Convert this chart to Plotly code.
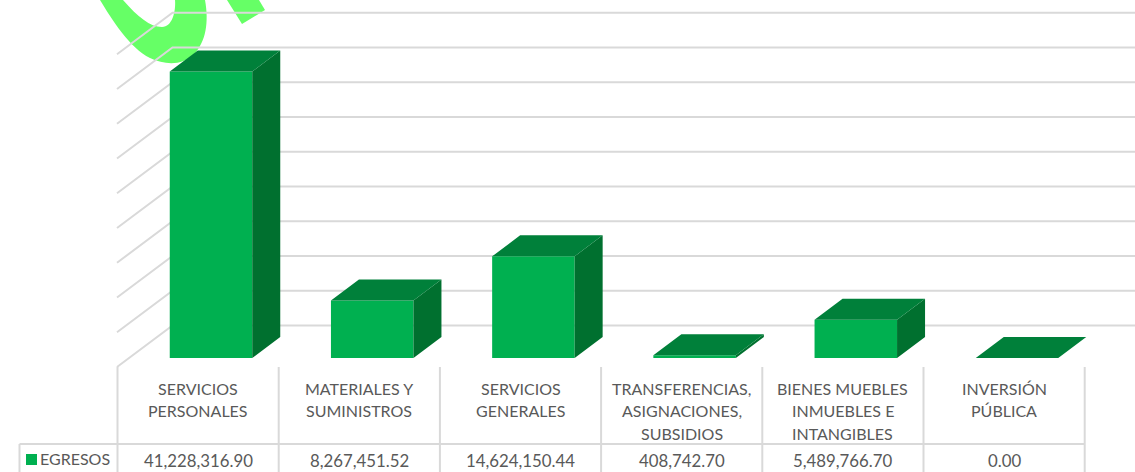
import plotly.graph_objects as go

categories = [
    ["SERVICIOS", "PERSONALES"],
    ["MATERIALES Y", "SUMINISTROS"],
    ["SERVICIOS", "GENERALES"],
    ["TRANSFERENCIAS,", "ASIGNACIONES,", "SUBSIDIOS"],
    ["BIENES MUEBLES", "INMUEBLES E", "INTANGIBLES"],
    ["INVERSIÓN", "PÚBLICA"],
]
egresos = [41228316.90, 8267451.52, 14624150.44, 408742.70, 5489766.70, 0.00]
series_name = "EGRESOS"
grid_values = [0, 5e6, 10e6, 15e6, 20e6, 25e6, 30e6, 35e6, 40e6, 45e6]

W, H = 1135, 472
COL_W = 161.2          # px per category
BAR0_PX = 211.0        # centre of the first bar front
BAR_W = 82.5           # px
BASE_PX = 358.0        # px of value 0 on the bar front
PX_PER_UNIT = 6.95e-6  # px per value unit
BAR_DX, BAR_DY = 28.0, 21.0
WALL_L, WALL_R = 117.0, 172.5
WALL_FRONT, WALL_BACK = 9.0, 32.5
COL_LEFT = 117.5
TABLE_LEFT, ROW_Y, TABLE_TOP = 19.5, 444.0, 367.0

GRID = "#D9D9D9"
TEXT = "#595959"
FRONT, TOP, SIDE = "#00B050", "#00803A", "#00702F"
FONT = "Lato"
FS_LABEL = 16
FS_VALUE = 16.8


def dx(px):
    return px / COL_W


def dy(px):
    return px / PX_PER_UNIT


def xval(px):
    return (px - BAR0_PX) / COL_W


def yval(px):
    return (BASE_PX - px) / PX_PER_UNIT


xs = list(range(len(egresos)))
half = BAR_W / COL_W / 2

fig = go.Figure()
fig.add_trace(go.Bar(x=xs, y=egresos, width=BAR_W / COL_W, marker=dict(color=FRONT, line=dict(width=0)),
                     name=series_name, showlegend=False))

top_x, top_y, side_x, side_y = [], [], [], []
for x, v in zip(xs, egresos):
    l, r = x - half, x + half
    top_x += [l, r, r + dx(BAR_DX), l + dx(BAR_DX), l, None]
    top_y += [v, v, v + dy(BAR_DY), v + dy(BAR_DY), v, None]
    side_x += [r, r + dx(BAR_DX), r + dx(BAR_DX), r, r, None]
    side_y += [0, dy(BAR_DY), v + dy(BAR_DY), v, 0, None]
fig.add_trace(go.Scatter(x=side_x, y=side_y, mode="lines", line=dict(width=0), fill="toself",
                         fillcolor=SIDE, showlegend=False))
fig.add_trace(go.Scatter(x=top_x, y=top_y, mode="lines", line=dict(width=0), fill="toself",
                         fillcolor=TOP, showlegend=False))

shapes = []
# watermark fragments behind the chart (figure-pixel outline)
logo = ("M100,0 C112,20 130,48 150,58 C165,65 182,66 194,54 C206,42 209,22 205,0 "
        "L175,0 C176,12 172,27 162,27 C150,27 138,17 123,0 Z")
logo2 = "M227,0 L242,24 L265,10 L259,0 Z"
def to_paper(path):
    out = []
    for tok in path.replace("M", "M ").replace("L", "L ").replace("C", "C ").replace("Z", "Z").split():
        if "," in tok:
            a, b = tok.split(",")
            out.append(f"{float(a)/W:.5f},{1-float(b)/H:.5f}")
        else:
            out.append(tok)
    return " ".join(out)
for p in (logo, logo2):
    shapes.append(dict(type="path", xref="paper", yref="paper", path=to_paper(p),
                       fillcolor="#66FF66", line=dict(width=0), layer="below"))

# gridlines: left wall + back wall
for v in grid_values:
    shapes.append(dict(type="path", xref="x", yref="y", layer="below",
                       path=f"M {xval(WALL_L)},{v - dy(WALL_FRONT)} L {xval(WALL_R)},{v + dy(WALL_BACK)} L {xval(W)},{v + dy(WALL_BACK)}",
                       line=dict(color=GRID, width=2)))

# data table rules
def pline(x0, y0, x1, y1, w=2):
    return dict(type="line", xref="paper", yref="paper", layer="below",
                x0=x0 / W, x1=x1 / W, y0=1 - y0 / H, y1=1 - y1 / H, line=dict(color=GRID, width=w))

n = len(categories)
for i in range(n + 1):
    shapes.append(pline(COL_LEFT + i * COL_W, TABLE_TOP, COL_LEFT + i * COL_W, H))
shapes.append(pline(TABLE_LEFT, ROW_Y, COL_LEFT + n * COL_W, ROW_Y))
shapes.append(pline(TABLE_LEFT, ROW_Y, TABLE_LEFT, H))
shapes.append(dict(type="rect", xref="paper", yref="paper", layer="above",
                   x0=26 / W, x1=37 / W, y0=1 - 465 / H, y1=1 - 454 / H,
                   fillcolor=FRONT, line=dict(width=0)))

anns = []
def text(px, py, s, size, anchor="center"):
    anns.append(dict(xref="paper", yref="paper", x=px / W, y=1 - py / H, text=s, showarrow=False,
                     xanchor=anchor, yanchor="middle", xshift=0, borderpad=0,
                     font=dict(family=FONT, size=size, color=TEXT)))

for i, (lines, v) in enumerate(zip(categories, egresos)):
    cx = COL_LEFT + (i + 0.5) * COL_W
    for j, ln in enumerate(lines):
        text(cx, 388 + j * 22.5, ln, FS_LABEL)
    text(cx, 460, f"{v:,.2f}", FS_VALUE)
text(39, 458, series_name, FS_LABEL, "left")

fig.update_layout(
    width=W, height=H, margin=dict(l=0, r=0, t=0, b=0), paper_bgcolor="white", plot_bgcolor="white",
    xaxis=dict(range=[xval(0), xval(W)], visible=False, fixedrange=True),
    yaxis=dict(range=[yval(H), yval(0)], visible=False, fixedrange=True),
    shapes=shapes, annotations=anns, showlegend=False, hovermode=False,
)
fig.write_html("out.html", post_script="document.body.style.margin='0';", config={"displayModeBar": False})
